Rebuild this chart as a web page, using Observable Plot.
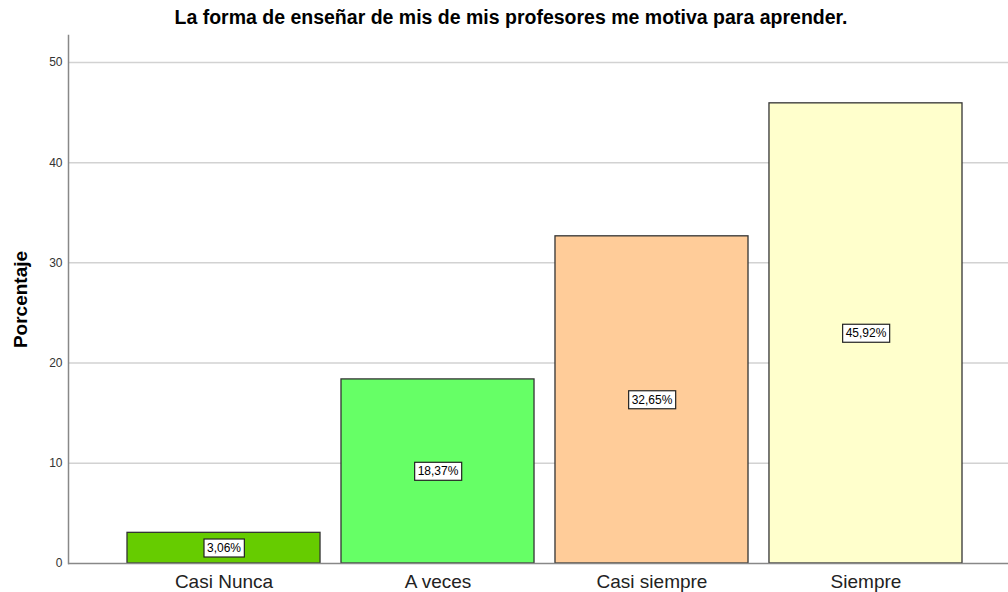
<!DOCTYPE html>
<html><head><meta charset="utf-8">
<script src="https://cdn.jsdelivr.net/npm/d3@7"></script>
<script src="https://cdn.jsdelivr.net/npm/@observablehq/plot@0.6"></script>
<style>
body{margin:0;background:#fff;}
#title{height:35px;box-sizing:border-box;padding-left:14px;padding-top:6px;font:bold 19.5px "Liberation Sans",Arial,sans-serif;text-align:center;color:#000;white-space:nowrap;}
</style></head><body>
<div id="title">La forma de enseñar de mis de mis profesores me motiva para aprender.</div>
<div id="chart"></div>
<script>
const categories = ["Casi Nunca", "A veces", "Casi siempre", "Siempre"];
const percentages = [3.06, 18.37, 32.65, 45.92];
const valueLabels = ["3,06%", "18,37%", "32,65%", "45,92%"];
const barColors = ["#66CC00", "#66FF66", "#FFCC99", "#FFFFCC"];
const yTicks = [0, 10, 20, 30, 40, 50];

const data = categories.map((c, i) => ({category: c, value: percentages[i], label: valueLabels[i]}));

const chart = Plot.plot({
  width: 1008, height: 557,
  marginTop: 0, marginLeft: 68, marginRight: 0, marginBottom: 29,
  style: {fontFamily: '"Liberation Sans", Arial, sans-serif', background: "#fff", overflow: "visible"},
  x: {domain: categories, range: [127, 962], paddingInner: 0.098, paddingOuter: 0, round: false},
  y: {domain: [0, 52.69]},
  color: {domain: categories, range: barColors},
  marks: [
    Plot.ruleY(yTicks.filter(d => d > 0), {stroke: "#d2d2d2", strokeWidth: 1.5}),
    Plot.barY(data, {x: "category", y: "value", fill: "category", stroke: "#333", strokeWidth: 1.3}),
    Plot.ruleY([0], {stroke: "#888", strokeWidth: 1.5}),
    Plot.frame({anchor: "left", stroke: "#888", strokeWidth: 1.5}),
    Plot.axisY({ticks: yTicks, tickSize: 0, tickPadding: 6, fontSize: 12, fill: "#333", label: null}),
    Plot.axisX({tickSize: 0, tickPadding: 11, fontSize: 19, fill: "#222", label: null}),
    Plot.text(["Porcentaje"], {frameAnchor: "left", textAnchor: "middle", rotate: -90, dx: -48, fontWeight: "bold", fontSize: 19, fill: "#000"}),
    Plot.text(data, {x: "category", y: d => d.value / 2, text: "label", fontSize: 12, fill: "#000", className: "vlabel"})
  ]
});
document.getElementById("chart").appendChild(chart);

// white boxes behind value labels, sized from the rendered text
document.querySelectorAll(".vlabel text").forEach(t => {
  const b = t.getBBox();
  const r = document.createElementNS("http://www.w3.org/2000/svg", "rect");
  r.setAttribute("x", b.x - 3);
  r.setAttribute("y", b.y - 2);
  r.setAttribute("width", b.width + 6);
  r.setAttribute("height", b.height + 4);
  r.setAttribute("fill", "#fff");
  r.setAttribute("stroke", "#222");
  r.setAttribute("stroke-width", "1.2");
  if (t.getAttribute("transform")) r.setAttribute("transform", t.getAttribute("transform"));
  t.parentNode.insertBefore(r, t);
});
</script>
</body></html>
